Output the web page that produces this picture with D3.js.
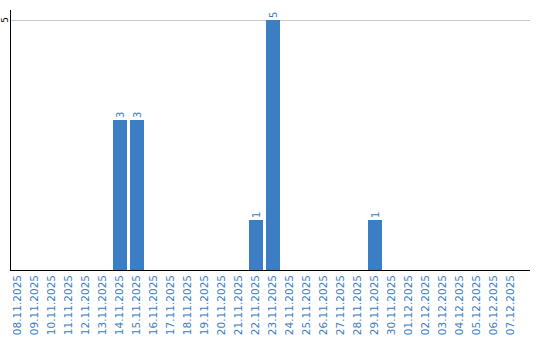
<!DOCTYPE html>
<html>
<head>
<meta charset="utf-8">
<script src="https://cdn.jsdelivr.net/npm/d3@7"></script>
<style>
  body { margin: 0; background: #fff; }
  text { font-family: "DejaVu Sans", sans-serif; }
</style>
</head>
<body>
<svg id="chart"></svg>
<script>
(function () {
  'use strict';

  const dates = [
    "08.11.2025", "09.11.2025", "10.11.2025", "11.11.2025", "12.11.2025",
    "13.11.2025", "14.11.2025", "15.11.2025", "16.11.2025", "17.11.2025",
    "18.11.2025", "19.11.2025", "20.11.2025", "21.11.2025", "22.11.2025",
    "23.11.2025", "24.11.2025", "25.11.2025", "26.11.2025", "27.11.2025",
    "28.11.2025", "29.11.2025", "30.11.2025", "01.12.2025", "02.12.2025",
    "03.12.2025", "04.12.2025", "05.12.2025", "06.12.2025", "07.12.2025"
  ];
  const counts = [0, 0, 0, 0, 0, 0, 3, 3, 0, 0, 0, 0, 0, 0, 1, 5, 0, 0, 0, 0, 0, 1, 0, 0, 0, 0, 0, 0, 0, 0];
  const yTicks = [5];

  const width = 540, height = 340;
  const blue = "#3b7ec4";

  const svg = d3.select("#chart")
    .attr("width", width)
    .attr("height", height);

  const x = d3.scaleBand()
    .domain(dates)
    .range([11, 518])
    .paddingInner(3 / 17)
    .paddingOuter(0);

  const y = d3.scaleLinear()
    .domain([0, 5])
    .range([270, 20]);

  // grid
  svg.append("g")
    .selectAll("line")
    .data(yTicks)
    .join("line")
    .attr("x1", 11).attr("x2", 530)
    .attr("y1", d => y(d) + 0.5).attr("y2", d => y(d) + 0.5)
    .attr("stroke", "#c8c8c8");

  // bars
  const data = dates.map((d, i) => ({ date: d, value: counts[i] })).filter(d => d.value > 0);
  svg.append("g")
    .selectAll("rect")
    .data(data)
    .join("rect")
    .attr("x", d => x(d.date))
    .attr("y", d => y(d.value))
    .attr("width", x.bandwidth())
    .attr("height", d => y(0) - y(d.value))
    .attr("fill", blue);

  // value labels
  svg.append("g")
    .selectAll("text")
    .data(data)
    .join("text")
    .attr("transform", d => `translate(${x(d.date) + x.bandwidth() / 2 + 3.5},${y(d.value) - 2}) rotate(-90)`)
    .attr("fill", blue)
    .attr("font-size", 10)
    .text(d => d.value);

  // y axis
  svg.append("line")
    .attr("x1", 10.5).attr("x2", 10.5)
    .attr("y1", 10).attr("y2", 270)
    .attr("stroke", "#000");
  svg.append("g")
    .selectAll("text")
    .data(yTicks)
    .join("text")
    .attr("transform", d => `translate(8,${y(d)}) rotate(-90)`)
    .attr("text-anchor", "middle")
    .attr("font-size", 9)
    .attr("fill", "#000")
    .text(d => d);

  // x axis
  svg.append("line")
    .attr("x1", 10).attr("x2", 530)
    .attr("y1", 270.5).attr("y2", 270.5)
    .attr("stroke", "#000");
  svg.append("g")
    .selectAll("text")
    .data(dates)
    .join("text")
    .attr("transform", d => `translate(${x(d) + x.bandwidth() / 2 + 3},275) rotate(-90)`)
    .attr("text-anchor", "end")
    .attr("fill", blue)
    .attr("font-size", 10.5)
    .text(d => d);
})();
</script>
</body>
</html>
